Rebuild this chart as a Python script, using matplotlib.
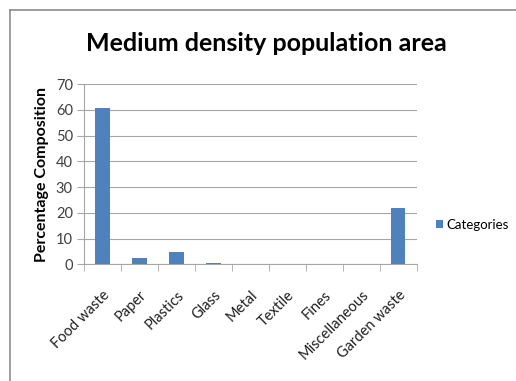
import numpy as np
import matplotlib
matplotlib.use("Agg")
import matplotlib.pyplot as plt
from matplotlib.lines import Line2D

categories = ["Food waste", "Paper", "Plastics", "Glass", "Metal",
              "Textile", "Fines", "Miscellaneous", "Garden waste"]
values = [60.7, 2.3, 4.7, 0.5, 0.0, 0.0, 0.0, 0.0, 22.0]
y_ticks = [0, 10, 20, 30, 40, 50, 60, 70]

BAR_COLOR = "#4F81BD"
GRID_COLOR = "#A6A6A6"
plt.rcParams['font.family'] = ['Lato', 'DejaVu Sans']

fig = plt.figure(figsize=(5.16, 3.81), dpi=100)
ax = fig.add_axes([0.1628, 0.3063, 0.6452, 0.4732])

x = np.arange(len(categories))
ax.bar(x, values, width=0.38, color=BAR_COLOR, label="Categories", zorder=3)

ax.set_xlim(-0.5, len(categories) - 0.5)
ax.set_ylim(0, 70)
ax.set_yticks(y_ticks)
ax.set_yticklabels([str(v) for v in y_ticks], fontsize=10.5, color="#404040")
ax.grid(axis="y", color=GRID_COLOR, linewidth=0.8, zorder=0)

# category labels at centers, tick marks on the boundaries
ax.set_xticks(x)
ax.set_xticklabels(categories, rotation=45, ha="right", rotation_mode="anchor",
                   fontsize=10.5, color="#202020")
ax.tick_params(axis="x", which="major", length=0, pad=17)
ax.set_xticks(np.arange(-0.5, len(categories) + 0.5, 1.0), minor=True)
ax.tick_params(axis="x", which="minor", length=5, color=GRID_COLOR, direction="out")
ax.tick_params(axis="y", length=5, color=GRID_COLOR, pad=3)

for side in ["top", "right"]:
    ax.spines[side].set_visible(False)
for side in ["left", "bottom"]:
    ax.spines[side].set_color(GRID_COLOR)
    ax.spines[side].set_linewidth(0.8)

ax.set_ylabel("Percentage Composition", fontsize=11.5, fontweight="bold", labelpad=5)

fig.text(0.517, 0.885, "Medium density population area", ha="center", va="center",
         fontsize=18, fontweight="bold")

ax.legend(loc="center left", bbox_to_anchor=(436 / 516, 1 - 225 / 381),
          bbox_transform=fig.transFigure, frameon=False, borderpad=0,
          borderaxespad=0, fontsize=9.5, handlelength=0.55, handleheight=0.55,
          handletextpad=0.25)

# outer chart frame
fig.add_artist(Line2D([10 / 516, 10 / 516], [0, 1 - 10 / 381], transform=fig.transFigure,
                      color="#8C8C8C", linewidth=1.2))
fig.add_artist(Line2D([10 / 516, 1], [1 - 10 / 381, 1 - 10 / 381], transform=fig.transFigure,
                      color="#8C8C8C", linewidth=1.2))

fig.savefig("out.png", dpi=100)
